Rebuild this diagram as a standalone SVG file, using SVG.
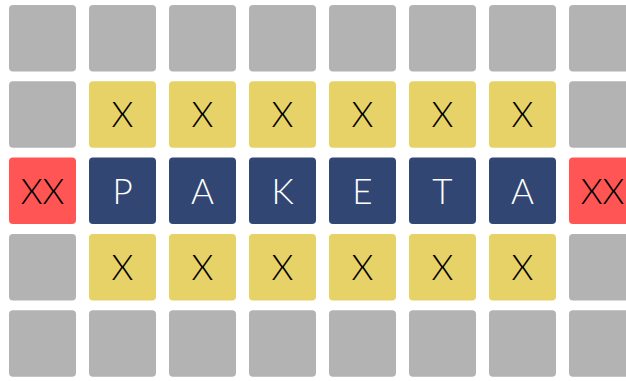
<svg xmlns="http://www.w3.org/2000/svg" width="626" height="381" viewBox="0 0 626 381">
<style>
rect{rx:4px;ry:4px}
.g{fill:#b3b3b3}
.y{fill:#e6d266}
.b{fill:#324673}
.r{fill:#ff5555}
text{font-family:"Lato","Open Sans","Liberation Sans",sans-serif;font-weight:300;font-size:35px;text-anchor:middle}
.d{fill:#000}
.w{fill:#ffffff}
</style>
<rect width="626" height="381" fill="#ffffff" style="rx:0;ry:0"/>
<g id="row1">
<rect class="g" x="9" y="5" width="67" height="66.5"/>
<rect class="g" x="89" y="5" width="67" height="66.5"/>
<rect class="g" x="169" y="5" width="67" height="66.5"/>
<rect class="g" x="249" y="5" width="67" height="66.5"/>
<rect class="g" x="329" y="5" width="67" height="66.5"/>
<rect class="g" x="409" y="5" width="67" height="66.5"/>
<rect class="g" x="489" y="5" width="67" height="66.5"/>
<rect class="g" x="569" y="5" width="67" height="66.5"/>
</g>
<g id="row2">
<rect class="g" x="9" y="81.3" width="67" height="66.5"/>
<g id="x1"><rect class="y" x="89" y="81.3" width="67" height="66.5"/><text class="d" x="122.5" y="127.3">X</text></g>
<g id="x2"><rect class="y" x="169" y="81.3" width="67" height="66.5"/><text class="d" x="202.5" y="127.3">X</text></g>
<g id="x3"><rect class="y" x="249" y="81.3" width="67" height="66.5"/><text class="d" x="282.5" y="127.3">X</text></g>
<g id="x4"><rect class="y" x="329" y="81.3" width="67" height="66.5"/><text class="d" x="362.5" y="127.3">X</text></g>
<g id="x5"><rect class="y" x="409" y="81.3" width="67" height="66.5"/><text class="d" x="442.5" y="127.3">X</text></g>
<g id="x6"><rect class="y" x="489" y="81.3" width="67" height="66.5"/><text class="d" x="522.5" y="127.3">X</text></g>
<rect class="g" x="569" y="81.3" width="67" height="66.5"/>
</g>
<g id="row3">
<g id="xxL"><rect class="r" x="9" y="157.6" width="67" height="66.5"/><text class="d" x="42.5" y="203.6">XX</text></g>
<g id="P"><rect class="b" x="89" y="157.6" width="67" height="66.5"/><text class="w" x="122.5" y="203.6">P</text></g>
<g id="A1"><rect class="b" x="169" y="157.6" width="67" height="66.5"/><text class="w" x="202.5" y="203.6">A</text></g>
<g id="K"><rect class="b" x="249" y="157.6" width="67" height="66.5"/><text class="w" x="282.5" y="203.6">K</text></g>
<g id="E"><rect class="b" x="329" y="157.6" width="67" height="66.5"/><text class="w" x="362.5" y="203.6">E</text></g>
<g id="T"><rect class="b" x="409" y="157.6" width="67" height="66.5"/><text class="w" x="442.5" y="203.6">T</text></g>
<g id="A2"><rect class="b" x="489" y="157.6" width="67" height="66.5"/><text class="w" x="522.5" y="203.6">A</text></g>
<g id="xxR"><rect class="r" x="569" y="157.6" width="67" height="66.5"/><text class="d" x="602.5" y="203.6">XX</text></g>
</g>
<g id="row4">
<rect class="g" x="9" y="233.9" width="67" height="66.5"/>
<g id="x7"><rect class="y" x="89" y="233.9" width="67" height="66.5"/><text class="d" x="122.5" y="279.9">X</text></g>
<g id="x8"><rect class="y" x="169" y="233.9" width="67" height="66.5"/><text class="d" x="202.5" y="279.9">X</text></g>
<g id="x9"><rect class="y" x="249" y="233.9" width="67" height="66.5"/><text class="d" x="282.5" y="279.9">X</text></g>
<g id="x10"><rect class="y" x="329" y="233.9" width="67" height="66.5"/><text class="d" x="362.5" y="279.9">X</text></g>
<g id="x11"><rect class="y" x="409" y="233.9" width="67" height="66.5"/><text class="d" x="442.5" y="279.9">X</text></g>
<g id="x12"><rect class="y" x="489" y="233.9" width="67" height="66.5"/><text class="d" x="522.5" y="279.9">X</text></g>
<rect class="g" x="569" y="233.9" width="67" height="66.5"/>
</g>
<g id="row5">
<rect class="g" x="9" y="310.2" width="67" height="66.5"/>
<rect class="g" x="89" y="310.2" width="67" height="66.5"/>
<rect class="g" x="169" y="310.2" width="67" height="66.5"/>
<rect class="g" x="249" y="310.2" width="67" height="66.5"/>
<rect class="g" x="329" y="310.2" width="67" height="66.5"/>
<rect class="g" x="409" y="310.2" width="67" height="66.5"/>
<rect class="g" x="489" y="310.2" width="67" height="66.5"/>
<rect class="g" x="569" y="310.2" width="67" height="66.5"/>
</g>
<g id="connectors"></g>
</svg>
